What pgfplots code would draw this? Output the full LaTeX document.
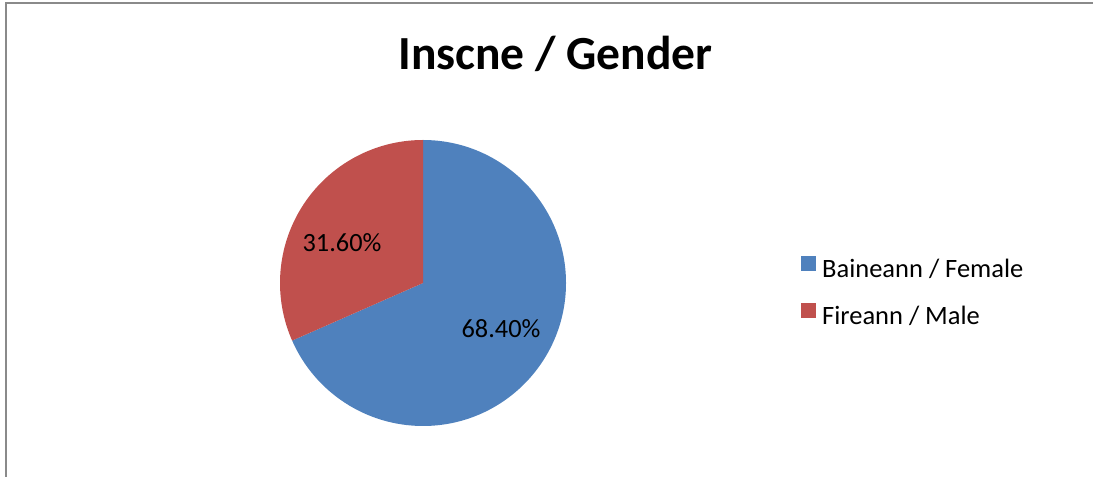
\documentclass[border=0pt]{standalone}
\usepackage{pgfplots}
\usepackage{pgfplotstable}
\pgfplotsset{compat=1.18}
\usepackage{fontspec}
\setmainfont{Carlito}
\definecolor{femblue}{HTML}{4F81BD}
\definecolor{malered}{HTML}{C0504D}
\definecolor{frame}{HTML}{8A8A8A}
\pgfplotstableread{
label value
Female 68.4
Male 31.6
}\piedata
\begin{document}
\begin{tikzpicture}
\pgfplotstablegetelem{0}{value}\of\piedata \let\vF\pgfplotsretval
\pgfplotstablegetelem{1}{value}\of\piedata \let\vM\pgfplotsretval
\pgfmathsetmacro\angF{90-3.6*\vF}
\pgfmathsetmacro\angM{90+3.6*\vM}
\begin{axis}[width=1093bp,height=477bp,scale only axis,
  xmin=0,xmax=1093,ymin=0,ymax=477,hide axis,clip=false,
  legend style={at={(axis cs:801,185)},anchor=west,draw=none,fill=none,
    font=\fontsize{26.6}{30}\selectfont,inner sep=0pt,row sep=23bp,
    /tikz/column sep=0pt,
    /tikz/every odd column/.append style={column sep=4bp}},
  legend cell align=left,
  legend image code/.code={\fill[#1,draw=none] (0bp,-2bp) rectangle (15bp,13bp);},
]
\coordinate (sw) at (axis cs:0,0);
\coordinate (ne) at (axis cs:1093,477);
\fill[femblue] (axis cs:423,194) -- ++(90:143bp) arc[start angle=90,end angle=\angF,radius=143bp] -- cycle;
\fill[malered] (axis cs:423,194) -- ++(90:143bp) arc[start angle=90,end angle=\angM,radius=143bp] -- cycle;
\addlegendimage{fill=femblue,draw=none}
\addlegendimage{fill=malered,draw=none}
\legend{Baineann / Female, Fireann / Male}
\node[font=\fontsize{26.4}{30}\selectfont] at (axis cs:342,234) {\pgfmathprintnumber[fixed,fixed zerofill,precision=2,assume math mode=true]{\vM}\%};
\node[font=\fontsize{26.4}{30}\selectfont] at (axis cs:501,148) {\pgfmathprintnumber[fixed,fixed zerofill,precision=2,assume math mode=true]{\vF}\%};
\node[font=\fontsize{47.7}{52}\selectfont\bfseries,anchor=base] at (axis cs:555.5,407) {Inscne / Gender};
\draw[frame,line width=2bp] (axis cs:6,0) -- (axis cs:6,474) -- (axis cs:1093,474);
\end{axis}
\pgfresetboundingbox
\path[use as bounding box] (sw) rectangle (ne);
\end{tikzpicture}
\end{document}
